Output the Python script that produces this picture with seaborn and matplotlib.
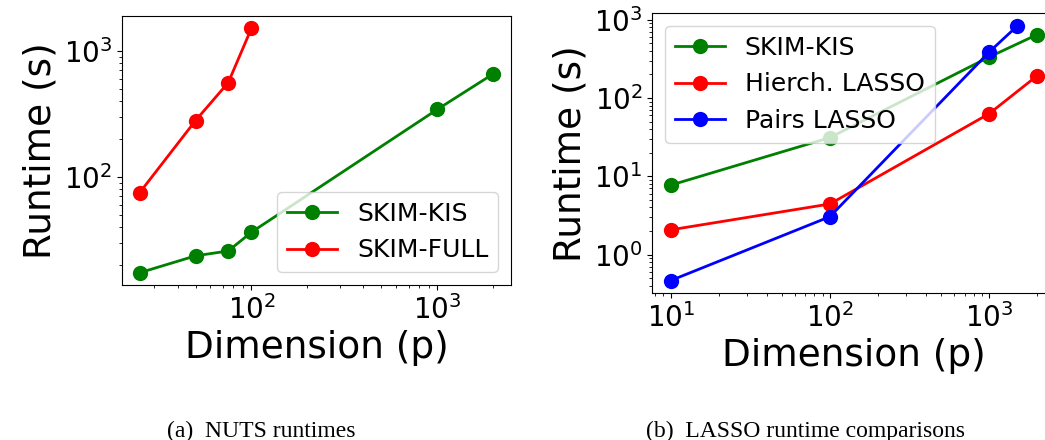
import pandas as pd
import matplotlib.pyplot as plt
import seaborn as sns

# values
nuts_dim_kis = [25, 50, 75, 100, 1000, 2000]
nuts_time_kis = [17.4, 23.7, 25.9, 36.5, 343, 656]
nuts_dim_full = [25, 50, 75, 100]
nuts_time_full = [75, 280, 560, 1510]

lasso_dim = [10, 100, 1000, 2000]
lasso_time_kis = [7.7, 31.2, 333, 644]
lasso_time_hier = [2.07, 4.43, 63, 192]
pairs_dim = [10, 100, 1000, 1500]
pairs_time = [0.466, 3.05, 386, 829]

nuts = pd.concat([
    pd.DataFrame({'p': nuts_dim_kis, 'runtime': nuts_time_kis, 'method': 'SKIM-KIS'}),
    pd.DataFrame({'p': nuts_dim_full, 'runtime': nuts_time_full, 'method': 'SKIM-FULL'}),
])
lasso = pd.concat([
    pd.DataFrame({'p': lasso_dim, 'runtime': lasso_time_kis, 'method': 'SKIM-KIS'}),
    pd.DataFrame({'p': lasso_dim, 'runtime': lasso_time_hier, 'method': 'Hierch. LASSO'}),
    pd.DataFrame({'p': pairs_dim, 'runtime': pairs_time, 'method': 'Pairs LASSO'}),
])

colors = {'SKIM-KIS': 'green', 'SKIM-FULL': 'red',
          'Hierch. LASSO': 'red', 'Pairs LASSO': 'blue'}

fig = plt.figure(figsize=(10.45, 4.4), dpi=100)
ax1 = fig.add_axes([0.1167, 0.3523, 0.3722, 0.6114])
# right panel runs slightly past the figure edge, as in the cropped original
ax2 = fig.add_axes([0.6242, 0.3334, 0.3858, 0.6364])

line_kw = dict(marker='o', markersize=11, markeredgewidth=0, linewidth=2,
               sort=False, estimator=None)

sns.lineplot(data=nuts, x='p', y='runtime', hue='method', palette=colors,
             hue_order=['SKIM-KIS', 'SKIM-FULL'], ax=ax1, **line_kw)
sns.lineplot(data=lasso, x='p', y='runtime', hue='method', palette=colors,
             hue_order=['SKIM-KIS', 'Hierch. LASSO', 'Pairs LASSO'], ax=ax2, **line_kw)

for ax in (ax1, ax2):
    ax.set_xscale('log')
    ax.set_yscale('log')
    ax.set_xlabel('Dimension (p)', fontsize=27)
    ax.set_ylabel('Runtime (s)', fontsize=27)
    ax.tick_params(axis='both', which='major', labelsize=20)

ax1.legend(loc='lower right', fontsize=18)
ax2.legend(loc='upper left', fontsize=18)

fig.text(261, 3, '(a)  NUTS runtimes', transform=None, ha='center', va='baseline',
         family='Liberation Serif', fontsize=17)
fig.text(805, 3, '(b)  LASSO runtime comparisons', transform=None, ha='center',
         va='baseline', family='Liberation Serif', fontsize=17)

fig.savefig('out.png', dpi=100)
